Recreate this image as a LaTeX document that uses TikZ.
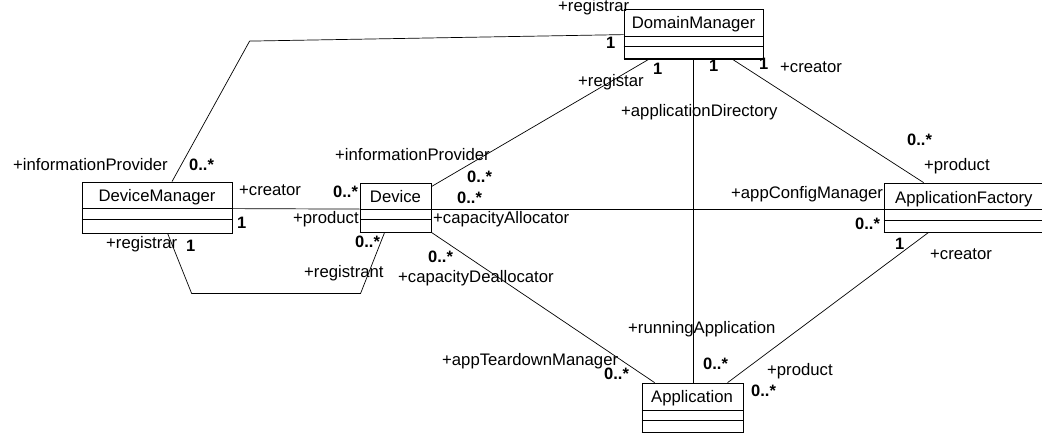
\documentclass[tikz,border=0pt]{standalone}
\usepackage{fontspec}
\setmainfont{Liberation Sans}
\usetikzlibrary{calc}
\begin{document}
\begin{tikzpicture}[x=1pt,y=-1pt,
  cls/.style={draw=black,line width=0.8pt,inner sep=0,fill=white},
  conn/.style={draw=black,line width=0.7pt},
  cname/.style={anchor=base,inner sep=0,font=\fontsize{16.7}{19}\selectfont},
  lbl/.style={anchor=base west,inner sep=0,font=\fontsize{16.7}{19}\selectfont},
  mult/.style={anchor=base west,inner sep=0,font=\fontsize{16.5}{19}\selectfont\bfseries}]
\useasboundingbox (0,0) rectangle (1042,436);
\fill[white] (0,0) rectangle (1042,436);

% ---- class boxes ----
\node[cls,minimum width=139pt,minimum height=50pt] (dm) at (693.5,34) {};
\node[cls,minimum width=150pt,minimum height=51pt] (dvm) at (157,207.5) {};
\node[cls,minimum width=71pt,minimum height=49pt] (dev) at (395.5,207.5) {};
\node[cls,minimum width=162pt,minimum height=49pt] (af) at (965,207.5) {};
\node[cls,minimum width=101pt,minimum height=49pt] (app) at (692.5,407.5) {};

% compartments and shadows
\foreach \n/\a/\b in {dm/28/38, dvm/27/38, dev/27/37, af/27/38, app/28/38}{
  \draw[line width=0.8pt] ($(\n.north west)+(0,\a)$) -- ($(\n.north east)+(0,\a)$);
  \draw[line width=0.8pt] ($(\n.north west)+(0,\b)$) -- ($(\n.north east)+(0,\b)$);
  \draw[line width=1.8pt] (\n.south west) -- (\n.south east) -- (\n.north east);
}

\node[cname] (dmt) at (693.5,29) {DomainManager};
\node[cname] (dvmt) at (157,201.7) {DeviceManager};
\node[cname] (devt) at (395.5,202.7) {Device};
\node[cname,anchor=base west] (aft) at (895,203) {ApplicationFactory};
\node[cname] (appt) at (692,402.7) {Application};

% ---- connectors ----
\draw[conn] ($(dvm.north)+(15,0)$) -- ($(dm.north west)+(-374,32.5)$) -- ($(dm.north west)+(0,26)$);
\draw[conn] ($(dev.north east)+(0,4)$) -- ($(dm.south west)+(25,0)$);
\draw[conn] (dm.south) -- (dm.south |- app.north);
\draw[conn] ($(dm.south west)+(109,0)$) -- ($(af.north west)+(40,0)$);
\draw[conn] ($(dvm.north east)+(0,27)$) -- ($(dev.north west)+(0,26.5)$);
\draw[conn] ($(dev.north east)+(0,26.5)$) -- ($(af.north west)+(0,26.5)$);
\draw[conn] ($(dvm.south west)+(86,0)$) -- ($(dvm.south west)+(110,60)$) -- ($(dev.south west)+(1,61)$) -- ($(dev.south west)+(25,0)$);
\draw[conn] (dev.south east) -- ($(app.north west)+(13,0)$);
\draw[conn] ($(af.south west)+(45,0)$) -- ($(app.north west)+(86,0)$);

% ---- role names ----
\node[lbl] (l1) at (13,170.5) {+informationProvider};
\node[lbl] (l2) at (335,160) {+informationProvider};
\node[lbl] (l3) at (239,195) {+creator};
\node[lbl] (l4) at (293,223) {+product};
\node[lbl] (l5) at (433,223) {+capacityAllocator};
\node[lbl] (l6) at (106,248) {+registrar};
\node[lbl] (l7) at (304,277) {+registrant};
\node[lbl] (l8) at (398,282) {+capacityDeallocator};
\node[lbl] (l9) at (442,365) {+appTeardownManager};
\node[lbl] (l10) at (628,333) {+runningApplication};
\node[lbl] (l11) at (767,375) {+product};
\node[lbl] (l12) at (930,259) {+creator};
\node[lbl] (l13) at (558,12) {+registrar};
\node[lbl] (l14) at (578,87) {+registar};
\node[lbl] (l15) at (780,73) {+creator};
\node[lbl] (l16) at (621,116.5) {+applicationDirectory};
\node[lbl] (l17) at (924,170) {+product};
\node[lbl] (l18) at (731,198) {+appConfigManager};

% ---- multiplicities ----
\node[mult] (m1) at (189,170) {0..*};
\node[mult] (m2) at (467,182) {0..*};
\node[mult] (m3) at (333,197) {0..*};
\node[mult] (m4) at (457,203) {0..*};
\node[mult] (m5) at (237,228) {1};
\node[mult] (m6) at (186,251) {1};
\node[mult] (m7) at (355,247) {0..*};
\node[mult] (m8) at (428,262) {0..*};
\node[mult] (m9) at (604,379) {0..*};
\node[mult] (m10) at (703,369) {0..*};
\node[mult] (m11) at (751,396) {0..*};
\node[mult] (m12) at (895,249) {1};
\node[mult] (m13) at (855,229) {0..*};
\node[mult] (m14) at (606,49) {1};
\node[mult] (m15) at (653,75) {1};
\node[mult] (m16) at (709,72) {1};
\node[mult] (m17) at (759,70) {1};
\node[mult] (m18) at (907,145) {0..*};
\end{tikzpicture}
\end{document}
